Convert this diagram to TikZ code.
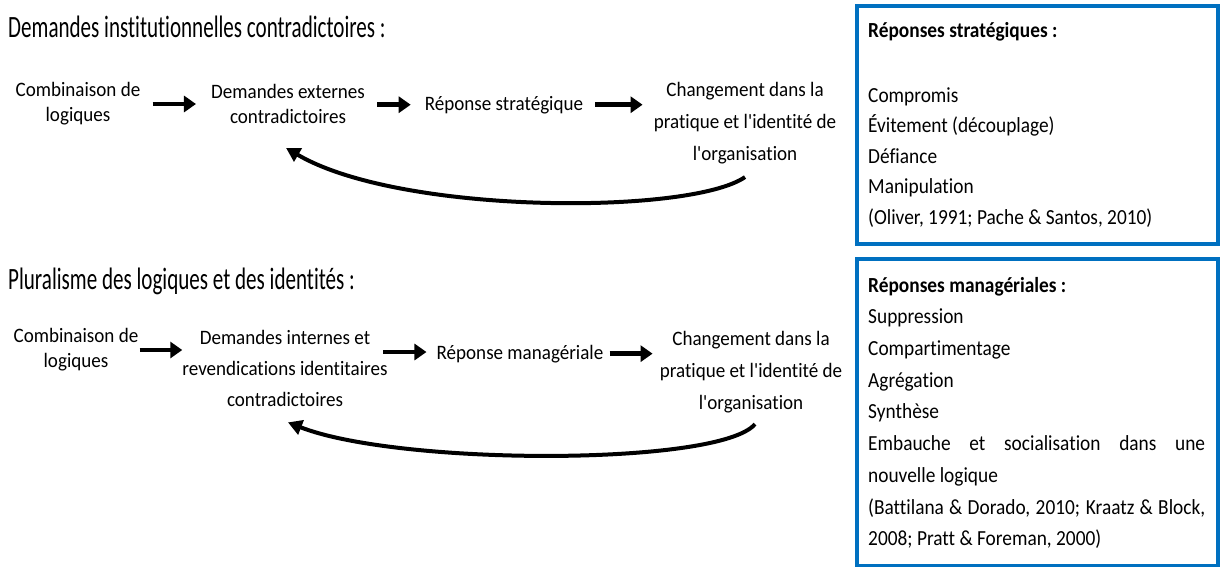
\documentclass[tikz,border=0pt]{standalone}
\usepackage{fontspec}
\setmainfont{Carlito}[RawFeature=-liga]
\newfontfamily\titlef[FakeStretch=0.68,RawFeature=-liga]{Carlito}
\newfontfamily\diagf[FakeStretch=0.93,RawFeature=-liga]{Carlito}
\newfontfamily\boxf[FakeStretch=0.9,RawFeature=-liga]{Carlito}
\usetikzlibrary{arrows.meta,calc}
\definecolor{boxblue}{RGB}{0,112,192}
\tikzset{
  ttl/.style={font=\titlef\fontsize{31}{37}\selectfont, anchor=base west, inner sep=0pt},
  lbl/.style={font=\diagf\fontsize{20.5}{25}\selectfont, align=center, inner sep=0pt},
  fat/.style={line width=4.5pt, -{Triangle[length=12pt,width=16pt]}},
  loopar/.style={line width=4pt, -{Triangle[length=14pt,width=15pt]}},
  bluebox/.style={draw=boxblue, line width=4pt, anchor=north west, inner sep=0pt},
  bl/.style={font=\boxf\fontsize{21.5}{31}\selectfont, anchor=base west, inner sep=0pt},
}
\begin{document}
\begin{tikzpicture}[x=1pt,y=-1pt]
\useasboundingbox (0,0) rectangle (1220,566);

% ---------- Section 1 ----------
\node[ttl] (t1) at (8,37) {Demandes institutionnelles contradictoires :};
\node[lbl] (c1) at (78,104) {Combinaison de\\logiques};
\node[lbl] (d1) at (288,104) {Demandes externes\\contradictoires};
\node[lbl, anchor=base] (r1) at (504,110) {Réponse stratégique};
\node[lbl] (ch1) at (745,123) {Changement dans la\\[7pt]pratique et l'identité de\\[7pt]l'organisation};

\draw[fat, shorten <=12pt, shorten >=15pt] (c1.east) -- (c1.east -| d1.west);
\draw[fat, shorten <=12pt, shorten >=14pt] (d1.east |- r1.west) -- (r1.west);
\draw[fat, shorten <=12pt, shorten >=11pt] (r1.east) -- (r1.east -| ch1.west);
\draw[loopar] ($(ch1.south)+(0,13)$) .. controls (690,215) and (400,215) .. ($(d1.south)+(-2,24)$);

% ---------- Section 2 ----------
\node[ttl] (t2) at (8,289) {Pluralisme des logiques et des identités :};
\node[lbl] (c2) at (76,350) {Combinaison de\\logiques};
\node[lbl] (d2) at (285,368) {Demandes internes et\\[6pt]revendications identitaires\\[6pt]contradictoires};
\node[lbl, anchor=base] (r2) at (520,359) {Réponse managériale};
\node[lbl] (ch2) at (751,372) {Changement dans la\\[7pt]pratique et l'identité de\\[7pt]l'organisation};

\draw[fat, shorten <=1pt] (c2.east) -- (c2.east -| d2.west);
\draw[fat] ($(r2.west |- c2.east)+(-53,2)$) -- ($(r2.west |- c2.east)+(-10,2)$);
\draw[fat, shorten <=6pt, shorten >=7pt] (r2.east) -- (r2.east -| ch2.west);
\draw[loopar] ($(ch2.south)+(4,11)$) .. controls (720,466) and (400,466) .. ($(d2.south)+(3,16)$);

% ---------- Box 1 ----------
\node[bluebox, minimum width=361pt, minimum height=238pt] (B1) at (855,4) {};
\node[bl, font=\boxf\bfseries\fontsize{21.5}{31}\selectfont] (b1h) at (868,37) {Réponses stratégiques :};
\node[bl] (b1a) at (868,102) {Compromis};
\node[bl] (b1b) at (868,132.5) {Évitement (découplage)};
\node[bl] (b1c) at (868,163) {Défiance};
\node[bl] (b1d) at (868,193.5) {Manipulation};
\node[bl] (b1e) at (868,224) {(Oliver, 1991; Pache \& Santos, 2010)};

% ---------- Box 2 ----------
\node[bluebox, minimum width=361pt, minimum height=307pt] (B2) at (855,257) {};
\node[bl, font=\boxf\bfseries\fontsize{21.5}{31}\selectfont] (b2h) at (868,292) {Réponses managériales :};
\node[bl] (b2a) at (868,323.7) {Suppression};
\node[bl] (b2b) at (868,355.4) {Compartimentage};
\node[bl] (b2c) at (868,387) {Agrégation};
\node[bl] (b2d) at (868,418.8) {Synthèse};
\node[bl] (b2e) at (868,450.5) {\makebox[337pt][s]{Embauche et socialisation dans une}};
\node[bl] (b2f) at (868,482) {nouvelle logique};
\node[bl] (b2g) at (868,514) {\makebox[337pt][s]{(Battilana \& Dorado, 2010; Kraatz \& Block,}};
\node[bl] (b2h2) at (868,545.6) {2008; Pratt \& Foreman, 2000)};
\end{tikzpicture}
\end{document}
